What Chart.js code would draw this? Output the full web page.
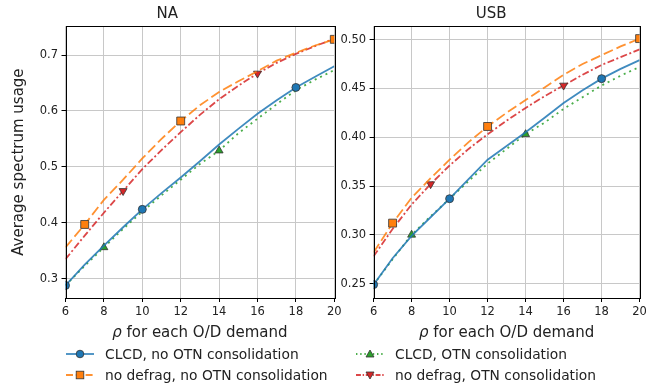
<!DOCTYPE html>
<html lang="en">
<head>
<meta charset="UTF-8">
<script src="https://cdn.jsdelivr.net/npm/chart.js"></script>
<title>Average spectrum usage</title>
<style>
    body { margin: 0; background: #fff; width: 646px; height: 388px; overflow: hidden; position: relative; font-family: "DejaVu Sans", sans-serif; }
    .box { position: absolute; top: 0; }
    #naBox { left: 0; width: 346px; height: 346px; }
    #usbBox { left: 340px; width: 306px; height: 346px; }
    .legend { position: absolute; font-size: 13.8px; color: #222; }
    .legend div { position: absolute; white-space: nowrap; height: 20px; line-height: 20px; }
    .legend svg { position: absolute; left: 0; top: 4px; }
    .legend span { position: absolute; top: 0; }
</style>
</head>
<body>
<div class="box" id="naBox"><canvas id="naChart"></canvas></div>
<div class="box" id="usbBox"><canvas id="usbChart"></canvas></div>
<div class="legend" id="legend"></div>
<script>
// rho values on the x axis
var rho = [6, 7, 8, 9, 10, 11, 12, 13, 14, 15, 16, 17, 18, 19, 20];

// NA network
var naClcd        = [0.288, 0.325, 0.359, 0.392, 0.424, 0.453, 0.481, 0.510, 0.540, 0.568, 0.595, 0.619, 0.642, 0.661, 0.680];
var naClcdOtn     = [0.288, 0.323, 0.356, 0.389, 0.420, 0.449, 0.477, 0.505, 0.529, 0.560, 0.586, 0.612, 0.637, 0.656, 0.673];
var naNoDefrag    = [0.356, 0.397, 0.441, 0.477, 0.515, 0.550, 0.582, 0.610, 0.634, 0.653, 0.671, 0.690, 0.704, 0.717, 0.728];
var naNoDefragOtn = [0.335, 0.377, 0.418, 0.457, 0.496, 0.530, 0.562, 0.593, 0.621, 0.645, 0.667, 0.686, 0.702, 0.716, 0.729];

// USB network
var usbClcd        = [0.249, 0.276, 0.299, 0.318, 0.337, 0.357, 0.377, 0.391, 0.405, 0.420, 0.435, 0.448, 0.460, 0.470, 0.479];
var usbClcdOtn     = [0.249, 0.275, 0.300, 0.319, 0.337, 0.355, 0.373, 0.388, 0.403, 0.415, 0.429, 0.441, 0.453, 0.463, 0.472];
var usbNoDefrag    = [0.282, 0.312, 0.338, 0.358, 0.377, 0.395, 0.411, 0.425, 0.438, 0.451, 0.464, 0.475, 0.484, 0.493, 0.501];
var usbNoDefragOtn = [0.278, 0.306, 0.331, 0.352, 0.371, 0.388, 0.403, 0.417, 0.430, 0.442, 0.453, 0.464, 0.474, 0.482, 0.490];

// where each series shows its marker
var markClcd = [6, 10, 18];
var markClcdOtn = [8, 14];
var markNoDefrag = [7, 12, 20];
var markNoDefragOtn = [9, 16];

var xTicks = [6, 8, 10, 12, 14, 16, 18, 20];
var naTicks = [0.3, 0.4, 0.5, 0.6, 0.7];
var usbTicks = [0.25, 0.30, 0.35, 0.40, 0.45, 0.50];

var seriesStyle = [
    { label: 'CLCD, no OTN consolidation', color: '#1f77b4', line: 'rgba(31,119,180,0.85)', dash: [], marker: 'circle', r: 4, rot: 0, marks: markClcd },
    { label: 'no defrag, no OTN consolidation', color: '#ff7f0e', line: 'rgba(255,127,14,0.85)', dash: [10, 4], marker: 'rect', r: 5.6, rot: 0, marks: markNoDefrag },
    { label: 'CLCD, OTN consolidation', color: '#2ca02c', line: 'rgba(44,160,44,0.85)', dash: [2, 4], marker: 'triangle', r: 4.6, rot: 0, marks: markClcdOtn },
    { label: 'no defrag, OTN consolidation', color: '#d62728', line: 'rgba(214,39,40,0.85)', dash: [7, 2.5, 2, 2.5], marker: 'triangle', r: 4.6, rot: 180, marks: markNoDefragOtn }
];

function makeDatasets(values) {
    return seriesStyle.map(function (s, i) {
        return {
            label: s.label,
            data: rho.map(function (x, j) { return { x: x, y: values[i][j] }; }),
            borderColor: s.line,
            borderWidth: 1.8,
            borderDash: s.dash,
            backgroundColor: s.color,
            pointBackgroundColor: s.color,
            pointBorderColor: '#333',
            pointBorderWidth: 0.8,
            pointStyle: s.marker,
            pointRotation: s.rot,
            pointRadius: rho.map(function (x) { return s.marks.indexOf(x) >= 0 ? s.r : 0; }),
            pointHoverRadius: 0,
            tension: 0,
            clip: 0
        };
    });
}

// frame on all four sides plus the x axis title with an italic rho
var frame = {
    id: 'frame',
    afterDraw: function (chart) {
        var a = chart.chartArea, ctx = chart.ctx;
        ctx.save();
        ctx.strokeStyle = '#000';
        ctx.lineWidth = 1;
        ctx.strokeRect(Math.round(a.left) + 0.5, Math.round(a.top) + 0.5, Math.round(a.right - a.left), Math.round(a.bottom - a.top));
        var rest = ' for each O/D demand';
        ctx.fillStyle = '#222';
        ctx.textBaseline = 'middle';
        ctx.font = 'italic 15px "DejaVu Sans"';
        var w1 = ctx.measureText('\u03c1').width;
        ctx.font = '15px "DejaVu Sans"';
        var w2 = ctx.measureText(rest).width;
        var x0 = (a.left + a.right) / 2 - (w1 + w2) / 2;
        ctx.font = 'italic 15px "DejaVu Sans"';
        ctx.fillText('\u03c1', x0, 333);
        ctx.font = '15px "DejaVu Sans"';
        ctx.fillText(rest, x0 + w1, 333);
        ctx.restore();
    }
};

function makeChart(id, title, values, ticks, yMin, yMax, yWidth, padRight, yTitle, decimals) {
    var ctx = document.getElementById(id).getContext('2d');
    return new Chart(ctx, {
        type: 'line',
        data: { datasets: makeDatasets(values) },
        options: {
            responsive: true,
            maintainAspectRatio: false,
            animation: false,
            events: [],
            layout: { padding: { left: 0, right: padRight, top: 0, bottom: 0 } },
            plugins: {
                legend: { display: false },
                tooltip: { enabled: false },
                title: {
                    display: true,
                    text: title,
                    color: '#222',
                    font: { family: 'DejaVu Sans', size: 15, weight: 'normal' },
                    padding: { top: 5, bottom: 3.2 }
                }
            },
            scales: {
                x: {
                    type: 'linear',
                    min: 6,
                    max: 20,
                    afterBuildTicks: function (s) { s.ticks = xTicks.map(function (v) { return { value: v }; }); },
                    afterFit: function (s) { s.height = 48; s.paddingLeft = 0; s.paddingRight = 0; },
                    border: { display: false },
                    grid: { color: '#c8c8c8', lineWidth: 1, tickColor: '#000', tickLength: 4 },
                    ticks: { color: '#222', font: { family: 'DejaVu Sans', size: 11.5 }, padding: 3, maxRotation: 0 }
                },
                y: {
                    min: yMin,
                    max: yMax,
                    afterBuildTicks: function (s) { s.ticks = ticks.map(function (v) { return { value: v }; }); },
                    afterFit: function (s) { s.width = yWidth; s.paddingTop = 0; s.paddingBottom = 0; },
                    border: { display: false },
                    grid: { color: '#c8c8c8', lineWidth: 1, tickColor: '#000', tickLength: 4 },
                    ticks: {
                        color: '#222',
                        font: { family: 'DejaVu Sans', size: 11.5 },
                        padding: 3.5,
                        callback: function (v) { return Number(v).toFixed(decimals); }
                    },
                    title: {
                        display: yTitle !== '',
                        text: yTitle,
                        color: '#222',
                        font: { family: 'DejaVu Sans', size: 15 },
                        padding: { top: 10, bottom: 0 }
                    }
                }
            }
        },
        plugins: [frame]
    });
}

makeChart('naChart', 'NA', [naClcd, naNoDefrag, naClcdOtn, naNoDefragOtn], naTicks, 0.2655, 0.7515, 65.5, 11.7, 'Average spectrum usage', 1);
makeChart('usbChart', 'USB', [usbClcd, usbNoDefrag, usbClcdOtn, usbNoDefragOtn], usbTicks, 0.2353, 0.5137, 33.6, 3.6, '', 2);

// legend below both panels, two columns
var legendPos = [
    { x: 66, y: 344 },
    { x: 66, y: 365 },
    { x: 356, y: 344 },
    { x: 356, y: 365 }
];
var legend = document.getElementById('legend');
seriesStyle.forEach(function (s, i) {
    var p = legendPos[i];
    var marker;
    if (s.marker === 'circle') {
        marker = '<circle cx="14" cy="6" r="3.8" fill="' + s.color + '" stroke="#333" stroke-width="0.8"/>';
    } else if (s.marker === 'rect') {
        marker = '<rect x="10.2" y="2.2" width="7.6" height="7.6" fill="' + s.color + '" stroke="#333" stroke-width="0.8"/>';
    } else if (s.rot === 0) {
        marker = '<polygon points="14,2 18,9 10,9" fill="' + s.color + '" stroke="#333" stroke-width="0.8"/>';
    } else {
        marker = '<polygon points="14,10 18,3 10,3" fill="' + s.color + '" stroke="#333" stroke-width="0.8"/>';
    }
    var dash = s.dash.length ? ' stroke-dasharray="' + s.dash.map(function (d) { return d * 0.7; }).join(',') + '"' : '';
    var item = document.createElement('div');
    item.style.left = p.x + 'px';
    item.style.top = p.y + 'px';
    item.innerHTML = '<svg width="28" height="12"><line x1="0" y1="6" x2="28" y2="6" stroke="' + s.line + '" stroke-width="1.8"' + dash + '/>' + marker + '</svg>' +
        '<span style="left:39px">' + s.label + '</span>';
    legend.appendChild(item);
});
</script>
</body>
</html>
